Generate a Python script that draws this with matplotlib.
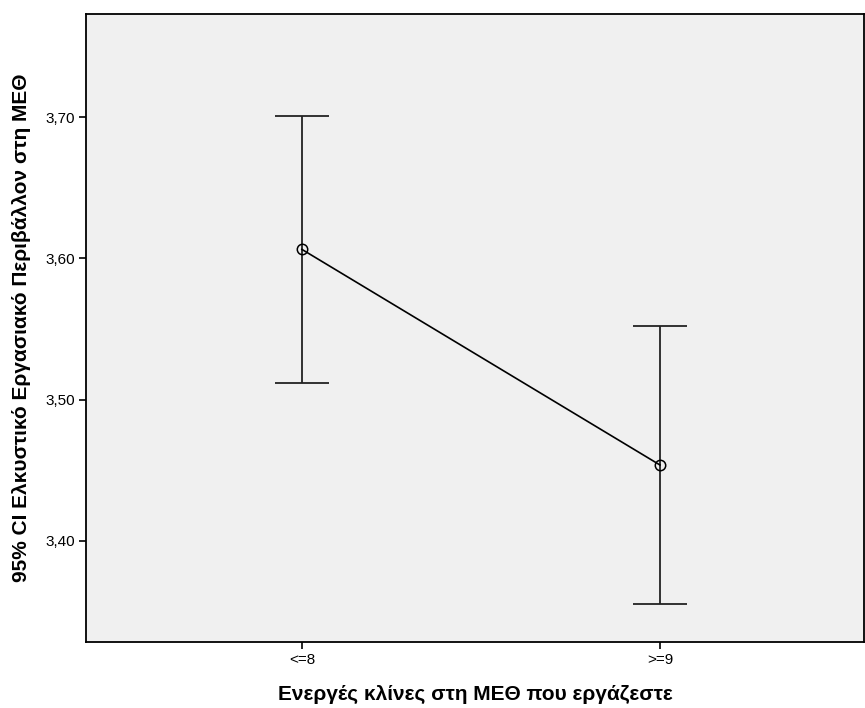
import matplotlib
matplotlib.use('Agg')
from matplotlib import pyplot as plt
from matplotlib.ticker import FuncFormatter
import numpy as np

# data
categories = ['<=8', '>=9']
means = [3.6064, 3.4538]
ci_low = [3.512, 3.3554]
ci_high = [3.7007, 3.5524]
yticks = [3.40, 3.50, 3.60, 3.70]

plt.rcParams['font.family'] = ['Liberation Sans', 'DejaVu Sans']

fig = plt.figure(figsize=(8.65, 7.08), dpi=100)
ax = fig.add_axes([86 / 865, 1 - 642 / 708, 778 / 865, 628 / 708])
ax.set_facecolor('#f0f0f0')

x = np.arange(len(categories))
m = np.array(means)
err = [m - np.array(ci_low), np.array(ci_high) - m]

ax.errorbar(x, m, yerr=err, fmt='none', ecolor='#222222', elinewidth=1.3,
            capsize=19.5, capthick=1.3, zorder=2)
ax.plot(x, m, color='black', lw=1.2, marker='o', markersize=7.5,
        markerfacecolor='none', markeredgecolor='black', markeredgewidth=1.1,
        zorder=3)

ax.set_xlim(-0.603, 1.57)
ax.set_ylim(3.3285, 3.773)
ax.set_xticks(x)
ax.set_xticklabels(categories)
ax.set_yticks(yticks)
ax.yaxis.set_major_formatter(FuncFormatter(lambda v, p: f'{v:.2f}'.replace('.', ',')))
ax.tick_params(axis='both', labelsize=11, length=5, width=1.2, color='black',
               pad=3)
for s in ax.spines.values():
    s.set_linewidth(1.3)
    s.set_color('black')

ax.set_xlabel('Ενεργές κλίνες στη ΜΕΘ που εργάζεστε', fontsize=15,
              fontweight='bold', labelpad=13)
ax.set_ylabel('95% CI Ελκυστικό Εργασιακό Περιβάλλον στη ΜΕΘ', fontsize=15,
              fontweight='bold', labelpad=10)

fig.savefig('out.png', dpi=100)
